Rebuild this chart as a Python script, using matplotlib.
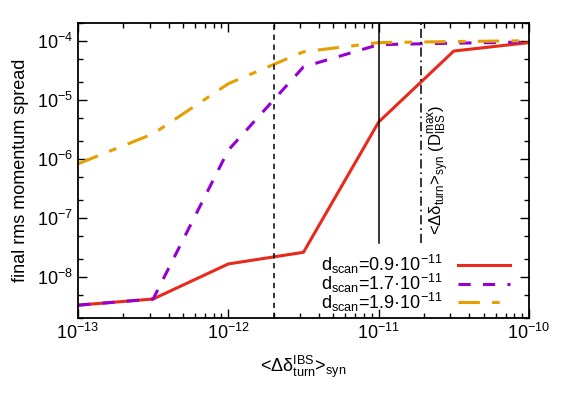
import numpy as np
import matplotlib
matplotlib.use('Agg')
import matplotlib.pyplot as plt
from matplotlib.ticker import LogLocator, NullFormatter, FixedLocator

plt.rcParams['font.family'] = ['Liberation Sans', 'DejaVu Sans']
plt.rcParams['mathtext.fontset'] = 'custom'
plt.rcParams['mathtext.rm'] = 'Liberation Sans'
plt.rcParams['mathtext.it'] = 'Liberation Sans:italic'
plt.rcParams['mathtext.bf'] = 'Liberation Sans:bold'

# 数据
x_kick = [1e-13, 3.16e-13, 1e-12, 3.16e-12, 1e-11, 3.16e-11, 1e-10]
y_09 = [3.3e-9, 4.2e-9, 1.65e-8, 2.6e-8, 4.2e-6, 6.7e-5, 9.3e-5]
y_17 = [3.3e-9, 4.2e-9, 1.4e-6, 3.6e-5, 8.6e-5, 9.1e-5, 9.5e-5]
y_19 = [8.2e-7, 2.65e-6, 1.87e-5, 6.5e-5, 9.3e-5, 9.7e-5, 1.0e-4]
labels = [r'd$_{\rm scan}$=0.9·10$^{-11}$',
          r'd$_{\rm scan}$=1.7·10$^{-11}$',
          r'd$_{\rm scan}$=1.9·10$^{-11}$']
vlines = [2e-12, 1e-11, 1.9e-11]
vline_bottom = 3.8e-8  # 实线和点划线停在图例上方
xticks = [1e-13, 1e-12, 1e-11, 1e-10]
yticks = [1e-8, 1e-7, 1e-6, 1e-5, 1e-4]

fig = plt.figure(figsize=(5.62, 3.95), dpi=100)
ax = fig.add_axes([0.1388, 0.1949, 0.8025, 0.7469])

ax.plot(x_kick, y_09, color='#e8291c', lw=2.2, label=labels[0])
ax.plot(x_kick, y_17, color='#9400d3', lw=2.2, dashes=(4, 4), label=labels[1])
ax.plot(x_kick, y_19, color='#e69f00', lw=2.2, dashes=(7, 4, 2.5, 4), label=labels[2])

# 竖线
ax.axvline(vlines[0], color='k', lw=1.1, dashes=(3.5, 3))
ax.plot([vlines[1], vlines[1]], [vline_bottom, 2e-4], color='k', lw=1.1)
ax.plot([vlines[2], vlines[2]], [vline_bottom, 2e-4], color='k', lw=1.1,
        dashes=(6, 2.5, 1.2, 2.5))

ax.text(2.5e-11, 6.5e-7, r'<$\mathrm{\Delta\delta_{turn}}$>$_{\rm syn}$ (D$_{\rm IBS}^{\rm max}$)',
        rotation=90, ha='center', va='center', fontsize=12)

ax.set_xscale('log')
ax.set_yscale('log')
ax.set_xlim(1e-13, 1e-10)
ax.set_ylim(2e-9, 2e-4)
ax.set_xticks(xticks)
ax.set_yticks(yticks)
ax.yaxis.set_minor_locator(LogLocator(base=10, subs=(2, 5), numticks=20))
ax.yaxis.set_minor_formatter(NullFormatter())
ax.xaxis.set_minor_locator(LogLocator(base=10, subs=np.arange(2, 10), numticks=20))
ax.xaxis.set_minor_formatter(NullFormatter())
ax.tick_params(which='both', direction='in', top=True, right=True, labelsize=13)
ax.tick_params(which='major', length=6.5, width=1)
ax.tick_params(which='minor', length=3.5, width=1)
for s in ax.spines.values():
    s.set_linewidth(1.3)

ax.set_ylabel('final rms momentum spread', fontsize=13, labelpad=6)
ax.set_xlabel(r'<$\mathrm{\Delta\delta_{turn}^{IBS}}$>$_{\rm syn}$', fontsize=13, labelpad=8)

# 图例: 线在右边
leg = ax.legend(loc='lower right', bbox_to_anchor=(0.958, 0.015), frameon=False,
                markerfirst=False, fontsize=13, handlelength=2.9,
                handletextpad=0.8, labelspacing=-0.25, borderpad=0.0,
                borderaxespad=0.0)
for t in leg.get_texts():
    t.set_ha('right')

fig.savefig('out.png', dpi=100)
plt.close()
